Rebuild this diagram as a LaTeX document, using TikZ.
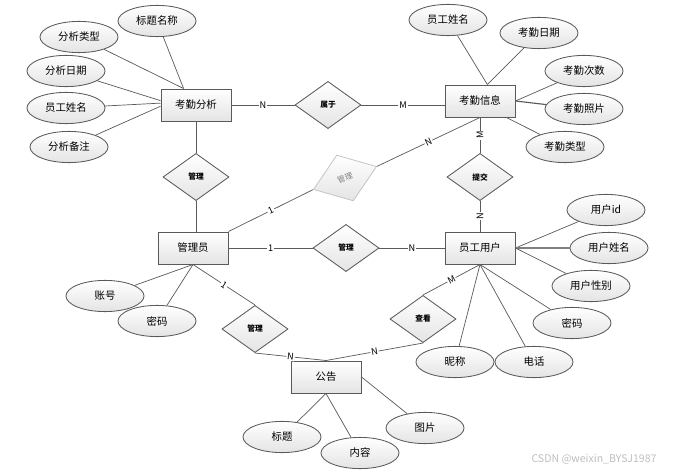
\documentclass[tikz,border=0pt]{standalone}
\usepackage{fontspec}
\setmainfont{Noto Sans CJK SC}
\usepackage{tikz}
\usetikzlibrary{shapes.geometric,calc}
\definecolor{er-line}{HTML}{5A5A5A}
\definecolor{er-fill}{HTML}{E4E4E4}

\begin{document}
\begin{tikzpicture}[x=0.025cm,y=-0.025cm,
  entity/.style={draw=er-line,line width=0.7pt,top color=white,bottom color=er-fill,minimum width=1.75cm,minimum height=0.8cm,inner sep=1pt,font=\fontsize{7.4}{8}\selectfont},
  attr/.style={ellipse,draw=er-line,line width=0.6pt,top color=white,bottom color=er-fill,minimum width=1.95cm,minimum height=0.78cm,inner sep=0pt,font=\fontsize{7.4}{8}\selectfont},
  rel/.style={diamond,draw=er-line,line width=0.6pt,top color=white,bottom color=er-fill,minimum width=1.65cm,minimum height=1.18cm,inner sep=0pt,font=\fontsize{5.5}{6}\selectfont\bfseries},
  card/.style={fill=white,inner sep=0.6pt,font=\fontsize{6.5}{7}\selectfont},
  link/.style={draw=er-line,line width=0.5pt}]
  \path[fill=white,use as bounding box] (0,0) rectangle (678,473);
  \node[entity] (kqfx) at (196,105) {考勤分析};
  \node[rel] (glA) at (196,177) {管理};
  \node[entity] (gly) at (193,248) {管理员};
  \node[rel] (shuyu) at (328,105) {属于};
  \node[entity] (kqxx) at (480,101) {考勤信息};
  \node[rel] (tijiao) at (480,177) {提交};
  \node[entity] (ygyh) at (480,248) {员工用户};
  \node[rel] (glC) at (346,248) {管理};
  \node[rel,draw=gray!45,text=gray,font=\fontsize{5.5}{6}\selectfont,rotate=20,minimum width=1.68cm,minimum height=1.22cm] (glB) at (345,178) {管理};
  \node[rel] (glD) at (255,329) {管理};
  \node[rel] (chakan) at (423,319) {查看};
  \node[entity] (gg) at (326,377) {公告};
  \node[attr] (btmc) at (157,21) {标题名称};
  \node[attr] (fxlx) at (79,37) {分析类型};
  \node[attr] (fxrq) at (66,71) {分析日期};
  \node[attr] (ygxmA) at (66,108) {员工姓名};
  \node[attr] (fxbz) at (69,147) {分析备注};
  \node[attr] (ygxmB) at (448,20) {员工姓名};
  \node[attr] (kqrq) at (539,33) {考勤日期};
  \node[attr] (kqcs) at (584,71) {考勤次数};
  \node[attr] (kqzp) at (584,109) {考勤照片};
  \node[attr] (kqlx) at (565,147) {考勤类型};
  \node[attr] (yhid) at (606,210) {用户id};
  \node[attr] (yhxm) at (609,248) {用户姓名};
  \node[attr] (yhxb) at (591,286) {用户性别};
  \node[attr] (mmB) at (572,323) {密码};
  \node[attr] (nc) at (455,362) {昵称};
  \node[attr] (dh) at (534,362) {电话};
  \node[attr] (zh) at (105,296) {账号};
  \node[attr] (mmA) at (157,321) {密码};
  \node[attr] (bt) at (282,437) {标题};
  \node[attr] (nr) at (360,453) {内容};
  \node[attr] (tp) at (425,428) {图片};
  \node[text=gray!50,font=\fontsize{7.5}{8}\selectfont] (wm) at (594,459) {CSDN @weixin\_BYSJ1987};
  \draw[link] (btmc) -- (kqfx.127); \draw[link] (fxlx) -- (kqfx.127);
  \draw[link] (fxrq) -- (kqfx.173); \draw[link] (ygxmA) -- (kqfx.177); \draw[link] (fxbz) -- (kqfx.182);
  \draw[link] (ygxmB) -- (kqxx.66); \draw[link] (kqrq) -- (kqxx.66);
  \draw[link] (kqcs) -- (kqxx.east); \draw[link,line width=0.8pt] (kqzp) -- (kqxx.east); \draw[link] (kqlx) -- (kqxx.-32);
  \draw[link] (yhid) -- (ygyh.east); \draw[link,line width=0.9pt,draw=gray] (yhxm) -- (ygyh.east); \draw[link] (yhxb) -- (ygyh.east);
  \draw[link] (mmB) -- (ygyh.south); \draw[link] (dh) -- (ygyh.south); \draw[link] (nc) -- (ygyh.south);
  \draw[link] (zh) -- (gly.south); \draw[link] (mmA) -- (gly.south);
  \draw[link] (bt) -- (gg.south); \draw[link] (nr) -- (gg.south); \draw[link] (tp) -- (gg.east);
  \draw[link] (kqfx) -- node[card]{N} (shuyu);
  \draw[link] (shuyu) -- node[card]{M} (shuyu -| kqxx.west);
  \draw[link] (kqfx) -- (glA); \draw[link] (glA) -- (glA |- gly.north);
  \draw[link] (kqxx) -- node[card,rotate=90]{M} (tijiao);
  \draw[link] (tijiao) -- node[card,rotate=90]{N} (ygyh);
  \draw[link] (gly.north east) -- node[card,sloped]{1} (glB.west);
  \draw[link] (glB.east) -- node[card,sloped]{N} (kqxx.south);
  \draw[link] (gly) -- node[card]{1} (glC);
  \draw[link] (glC) -- node[card]{N} (ygyh);
  \draw[link] (gly.south) -- node[card,sloped]{1} (glD.north);
  \draw[link] (glD.south) -- node[card,sloped]{N} (gg.north);
  \draw[link] (ygyh.south) -- node[card,sloped]{M} (chakan.north);
  \draw[link] (chakan.south) -- node[card,sloped]{N} (gg.north);
\end{tikzpicture}
\end{document}
